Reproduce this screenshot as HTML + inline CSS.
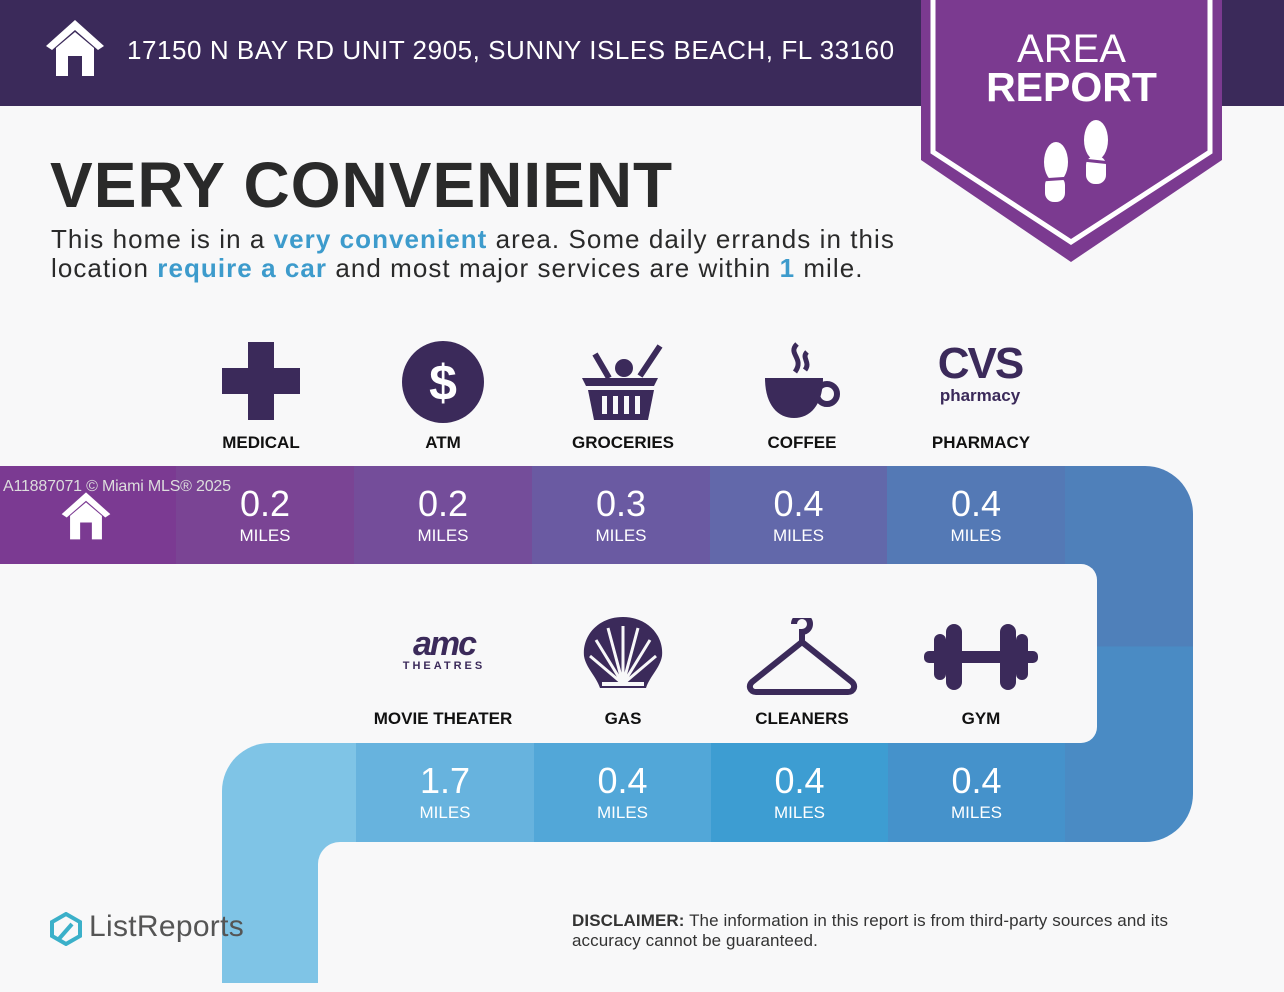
<!DOCTYPE html>
<html><head><meta charset="utf-8"><style>
*{margin:0;padding:0;box-sizing:border-box}
body{width:1284px;height:979px;overflow:hidden;background:#f8f8f9;font-family:"Liberation Sans",sans-serif;position:relative}
.a{position:absolute}
.seg{position:absolute;color:#fff;text-align:center}
.seg .n{font-size:36px;line-height:36px;margin-top:20px}
.seg .m{font-size:17px;margin-top:4px}
.lbl{position:absolute;width:178px;text-align:center;font-weight:bold;font-size:17px;color:#111}
.ic{position:absolute}
</style></head><body>
<div class="a" style="left:0;top:0;width:1284px;height:106px;background:#3b2a5a"></div>
<svg class="a" style="left:44px;top:18px" width="62" height="58" viewBox="0 0 62 58"><path d="M31 2 L2 28 L8 32 L31 12 L54 32 L60 28 Z" fill="#fff"/><path d="M12 30 L31 14 L50 30 L50 58 L38 58 L38 38 L24 38 L24 58 L12 58 Z" fill="#fff"/></svg>
<div class="a" style="left:127px;top:35px;color:#fff;font-size:26px;letter-spacing:0.55px">17150 N BAY RD UNIT 2905, SUNNY ISLES BEACH, FL 33160</div>
<svg class="a" style="left:921px;top:0" width="302" height="264" viewBox="0 0 302 264"><path d="M0 0 H301 V160 L150 262 L0 160 Z" fill="#7b3a90"/><path d="M12 0 V152 L150 242 L289 152 V0" fill="none" stroke="#fff" stroke-width="5"/><g fill="#fff"><ellipse cx="135" cy="162" rx="12" ry="20"/><rect x="124" y="176" width="20" height="26" rx="9"/><ellipse cx="175" cy="140" rx="12" ry="20"/><rect x="165" y="156" width="20" height="28" rx="9"/></g><g stroke="#7b3a90" stroke-width="3"><line x1="120" y1="180" x2="150" y2="178"/><line x1="162" y1="160" x2="190" y2="163"/></g></svg>
<div class="a" style="left:921px;top:30px;width:301px;text-align:center;color:#fff;font-size:40px;line-height:38px">AREA<br><b style="font-size:41px">REPORT</b></div>
<div class="a" style="left:50px;top:148px;font-size:64px;font-weight:bold;color:#2a2a2a;letter-spacing:1px">VERY CONVENIENT</div>
<div class="a" style="left:51px;top:225px;font-size:26px;line-height:29px;color:#2a2a2a;letter-spacing:1.05px">This home is in a <b style="color:#3d9bcc">very convenient</b> area. Some daily errands in this<br>location <b style="color:#3d9bcc">require a car</b> and most major services are within <b style="color:#3d9bcc">1</b> mile.</div>

<div class="a" style="left:1065px;top:466px;width:128px;height:376px;border-radius:0 48px 48px 0;background:linear-gradient(#4f80ba 0,#4f80ba 48%,#4a8bc4 48%)"></div>
<div class="a" style="left:222px;top:743px;width:140px;height:240px;border-radius:48px 0 0 0;background:#7fc4e6"></div>
<div class="a" style="left:318px;top:842px;width:60px;height:150px;border-radius:22px 0 0 0;background:#f8f8f9"></div>
<div class="seg" style="left:0;top:466px;width:176px;height:98px;background:#7b3a92"></div>
<div class="seg" style="left:176px;top:466px;width:178px;height:98px;background:#7a4494"><div class="n">0.2</div><div class="m">MILES</div></div>
<div class="seg" style="left:354px;top:466px;width:178px;height:98px;background:#744d9a"><div class="n">0.2</div><div class="m">MILES</div></div>
<div class="seg" style="left:532px;top:466px;width:178px;height:98px;background:#6a5aa2"><div class="n">0.3</div><div class="m">MILES</div></div>
<div class="seg" style="left:710px;top:466px;width:177px;height:98px;background:#6268aa"><div class="n">0.4</div><div class="m">MILES</div></div>
<div class="seg" style="left:887px;top:466px;width:178px;height:98px;background:#5479b5"><div class="n">0.4</div><div class="m">MILES</div></div>
<div class="a" style="left:1000px;top:564px;width:97px;height:179px;border-radius:0 16px 16px 0;background:#f8f8f9"></div>
<div class="seg" style="left:356px;top:743px;width:178px;height:99px;background:#67b3de"><div class="n">1.7</div><div class="m">MILES</div></div>
<div class="seg" style="left:534px;top:743px;width:177px;height:99px;background:#52a7d8"><div class="n">0.4</div><div class="m">MILES</div></div>
<div class="seg" style="left:711px;top:743px;width:177px;height:99px;background:#3d9dd2"><div class="n">0.4</div><div class="m">MILES</div></div>
<div class="seg" style="left:888px;top:743px;width:177px;height:99px;background:#4592cb"><div class="n">0.4</div><div class="m">MILES</div></div>

<svg class="a" style="left:60px;top:490px" width="52" height="50" viewBox="0 0 62 58"><path d="M31 2 L2 28 L8 32 L31 12 L54 32 L60 28 Z" fill="#fff"/><path d="M12 30 L31 14 L50 30 L50 58 L38 58 L38 38 L24 38 L24 58 L12 58 Z" fill="#fff"/></svg>
<div class="a" style="left:3px;top:478px;font-size:16px;color:#ddd;letter-spacing:-0.2px">A11887071 © Miami MLS® 2025</div>

<svg class="ic" style="left:222px;top:342px" width="78" height="78"><path d="M26 0h26v26h26v26h-26v26h-26v-26h-26v-26h26z" fill="#3b2a5a"/></svg>
<svg class="ic" style="left:401px;top:340px" width="84" height="84"><circle cx="42" cy="42" r="41" fill="#3b2a5a"/><text x="42" y="60" text-anchor="middle" fill="#fff" font-size="50" font-weight="bold" font-family="Liberation Sans">$</text></svg>
<svg class="ic" style="left:580px;top:344px" width="86" height="76"><path d="M2 34h76l-4 8H6z" fill="#3b2a5a"/><path d="M8 46h66l-6 30H14z" fill="#3b2a5a"/><g fill="#f8f8f9"><rect x="22" y="52" width="5" height="18"/><rect x="33" y="52" width="5" height="18"/><rect x="44" y="52" width="5" height="18"/><rect x="55" y="52" width="5" height="18"/></g><circle cx="44" cy="24" r="9" fill="#3b2a5a"/><path d="M15 10l14 24M60 32l20-30" stroke="#3b2a5a" stroke-width="6"/></svg>
<svg class="ic" style="left:763px;top:342px" width="80" height="80"><path d="M2 36h58c0 26-12 40-29 40S2 62 2 36z" fill="#3b2a5a"/><circle cx="64" cy="52" r="10" fill="none" stroke="#3b2a5a" stroke-width="6"/><path d="M34 2c-10 10 8 14-2 28M44 10c-6 6 4 10-2 18" stroke="#3b2a5a" stroke-width="5" fill="none"/></svg>
<div class="a" style="left:930px;top:344px;width:100px;text-align:center;color:#3b2a5a;font-weight:bold;font-size:44px;line-height:40px;letter-spacing:-2px">CVS</div>
<div class="a" style="left:930px;top:386px;width:100px;text-align:center;color:#3b2a5a;font-weight:bold;font-size:17px">pharmacy</div>
<div class="lbl" style="left:172px;top:433px">MEDICAL</div>
<div class="lbl" style="left:354px;top:433px">ATM</div>
<div class="lbl" style="left:534px;top:433px">GROCERIES</div>
<div class="lbl" style="left:713px;top:433px">COFFEE</div>
<div class="lbl" style="left:892px;top:433px">PHARMACY</div>

<div class="a" style="left:396px;top:628px;width:96px;text-align:center;color:#3b2a5a;font-weight:bold;font-size:34px;line-height:32px;letter-spacing:-2px;font-style:italic">amc</div>
<div class="a" style="left:396px;top:660px;width:96px;text-align:center;color:#3b2a5a;font-weight:bold;font-size:11px;letter-spacing:3px">THEATRES</div>
<svg class="ic" style="left:580px;top:614px" width="86" height="80"><path d="M43 3C18 3 2 22 4 42c2 12 12 20 16 32h46c4-12 14-20 16-32C84 22 68 3 43 3z" fill="#3b2a5a"/><g stroke="#f8f8f9" stroke-width="3"><path d="M43 70V12M43 70L28 14M43 70L58 14M43 70L16 26M43 70L70 26M43 70L10 42M43 70L76 42"/></g><path d="M22 70h42" stroke="#f8f8f9" stroke-width="4"/></svg>
<svg class="ic" style="left:746px;top:618px" width="112" height="80"><path d="M56 24v-10a8 8 0 1 0-8-8" fill="none" stroke="#3b2a5a" stroke-width="6"/><path d="M56 24L6 64c-4 4-2 10 4 10h92c6 0 8-6 4-10z" fill="none" stroke="#3b2a5a" stroke-width="6" stroke-linejoin="round"/></svg>
<svg class="ic" style="left:924px;top:624px" width="114" height="66"><rect x="0" y="27" width="114" height="12" rx="5" fill="#3b2a5a"/><rect x="10" y="10" width="12" height="46" rx="6" fill="#3b2a5a"/><rect x="22" y="0" width="16" height="66" rx="8" fill="#3b2a5a"/><rect x="76" y="0" width="16" height="66" rx="8" fill="#3b2a5a"/><rect x="92" y="10" width="12" height="46" rx="6" fill="#3b2a5a"/></svg>
<div class="lbl" style="left:354px;top:709px">MOVIE THEATER</div>
<div class="lbl" style="left:534px;top:709px">GAS</div>
<div class="lbl" style="left:713px;top:709px">CLEANERS</div>
<div class="lbl" style="left:892px;top:709px">GYM</div>

<svg class="a" style="left:50px;top:912px" width="32" height="34"><path d="M16 2L30 10V24L16 32L2 24V10Z" fill="none" stroke="#3bb0c9" stroke-width="4"/><path d="M8 28L22 12" stroke="#3bb0c9" stroke-width="4"/></svg>
<div class="a" style="left:89px;top:910px;font-size:30px;color:#555;letter-spacing:0.3px">ListReports</div>
<div class="a" style="left:572px;top:911px;font-size:17px;line-height:20px;color:#333;width:664px;letter-spacing:0.1px"><b>DISCLAIMER:</b> The information in this report is from third-party sources and its accuracy cannot be guaranteed.</div>
</body></html>
